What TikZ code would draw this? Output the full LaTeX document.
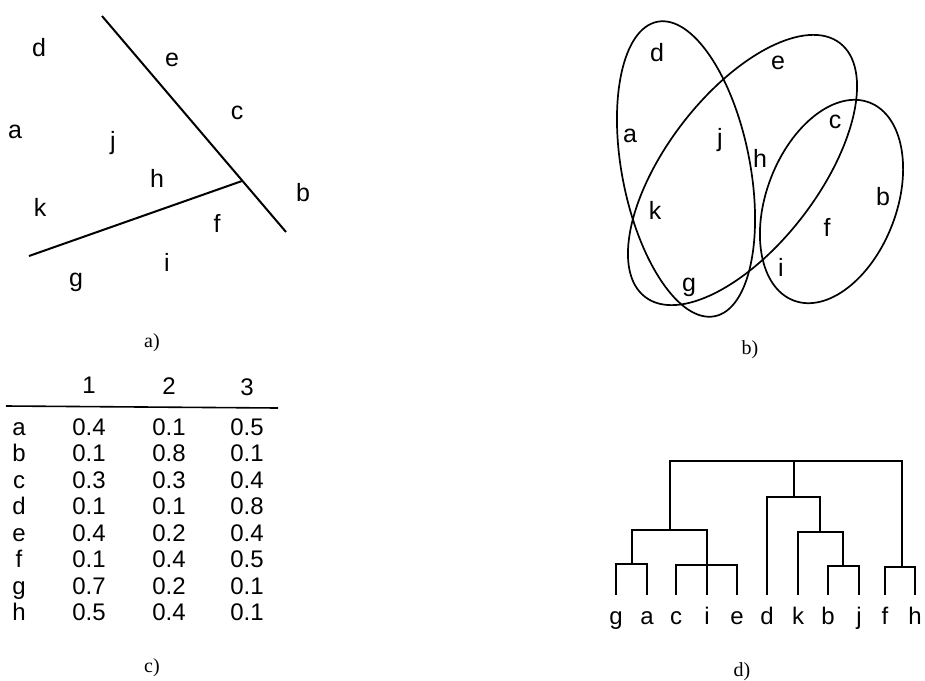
\documentclass[tikz,border=0pt]{standalone}
\usepackage{fontspec}
\setmainfont{Liberation Serif}
\newfontfamily\labfont{Liberation Sans}
\usetikzlibrary{positioning}

\begin{document}
\begin{tikzpicture}[
  x=0.5pt, y=-0.5pt,
  lab/.style={font=\labfont\fontsize{12.5}{14}\selectfont, inner sep=0pt},
  cell/.style={font=\labfont\fontsize{12}{14}\selectfont, inner sep=0pt, anchor=base},
  leaf/.style={font=\labfont\fontsize{12}{14}\selectfont, inner sep=0pt, anchor=base, text height=7pt},
  subcap/.style={font=\fontsize{10}{12}\selectfont, inner sep=0pt},
  cut/.style={line width=1pt},
  set/.style={line width=0.85pt},
  tree/.style={line width=0.85pt},
]
\useasboundingbox (0,0) rectangle (925,680);

% ---- a) objects split by two cuts ----
\coordinate (cutA1) at (102,16);
\coordinate (cutA2) at (286,232);
\coordinate (cutB1) at (29,256);
\coordinate (cutB2) at (242,181);
\draw[cut] (cutA1) -- (cutA2);
\draw[cut] (cutB1) -- (cutB2);
\node[lab] (pa-d) at (39,48) {d};
\node[lab] (pa-e) at (172,60) {e};
\node[lab] (pa-c) at (237,113) {c};
\node[lab] (pa-a) at (15,132) {a};
\node[lab] (pa-j) at (113,143) {j};
\node[lab] (pa-h) at (157,178) {h};
\node[lab] (pa-b) at (303,193) {b};
\node[lab] (pa-k) at (40,207) {k};
\node[lab] (pa-f) at (217,223) {f};
\node[lab] (pa-i) at (167,262) {i};
\node[lab] (pa-g) at (76,282) {g};
\node[subcap] (capa) at (152,343) {a)};

% ---- b) overlapping clusters ----
\coordinate (setL) at (686,169);
\coordinate (setM) at (742.5,170);
\coordinate (setR) at (831.5,201.5);
\draw[set, rotate around={101:(setL)}] (setL) ellipse [x radius=150, y radius=64];
\draw[set, rotate around={52.5:(setM)}] (setM) ellipse [x radius=160, y radius=76];
\draw[set, rotate around={69:(setR)}] (setR) ellipse [x radius=106, y radius=65];
\node[lab] (pb-d) at (657,53) {d};
\node[lab] (pb-e) at (778,63) {e};
\node[lab] (pb-c) at (835,122) {c};
\node[lab] (pb-a) at (630,136) {a};
\node[lab] (pb-j) at (720,140) {j};
\node[lab] (pb-h) at (760,158) {h};
\node[lab] (pb-b) at (883,197) {b};
\node[lab] (pb-k) at (655,210) {k};
\node[lab] (pb-f) at (827,227) {f};
\node[lab] (pb-i) at (781,267) {i};
\node[lab] (pb-g) at (689,287) {g};
\node[subcap] (capb) at (750,350) {b)};

% ---- c) membership table ----
\node[cell] (col1) at (89,393) {1};
\node[cell] (col2) at (169,394) {2};
\node[cell] (col3) at (247,395) {3};
\coordinate (ruleL) at (6,406);
\coordinate (ruleR) at (278,408);
\draw[line width=0.8pt] (ruleL) -- (ruleR);
\foreach \r/\u/\v/\w [count=\n from 0] in {a/0.4/0.1/0.5, b/0.1/0.8/0.1, c/0.3/0.3/0.4,
    d/0.1/0.1/0.8, e/0.4/0.2/0.4, f/0.1/0.4/0.5, g/0.7/0.2/0.1, h/0.5/0.4/0.1}{
  \node[cell] (row-\r) at (19,435+26.5*\n) {\r};
  \node[cell] (row-\r-1) at (89,435+26.5*\n) {\u};
  \node[cell] (row-\r-2) at (169,435+26.5*\n) {\v};
  \node[cell] (row-\r-3) at (247,435+26.5*\n) {\w};
}
\node[subcap] (capc) at (152,668) {c)};

% ---- d) dendrogram ----
\foreach \l/\x in {g/616, a/647, c/676, i/707, e/737, d/767, k/798, b/828, j/859, f/885, h/915}
  \node[leaf] (leaf-\l) at (\x,624) {\l};
\coordinate (ga) at (632,564);
\coordinate (cie) at (707,565);
\coordinate (gacie) at (670,530);
\coordinate (root) at (794,461);
\coordinate (dkbj) at (794,497);
\coordinate (kbj) at (820,532);
\coordinate (bj) at (843,566);
\coordinate (fh) at (902,567);
\draw[tree] ([yshift=7.5pt]leaf-g.north) |- (ga) -| ([yshift=7.5pt]leaf-a.north);
\draw[tree] ([yshift=7.5pt]leaf-c.north) |- (cie) -| ([yshift=7.5pt]leaf-e.north);
\draw[tree] (ga) |- (gacie) -| ([yshift=7.5pt]leaf-i.north);
\draw[tree] (gacie) |- (root) -| (fh);
\draw[tree] (root) -- (dkbj);
\draw[tree] ([yshift=7.5pt]leaf-d.north) |- (dkbj) -| (kbj);
\draw[tree] ([yshift=7.5pt]leaf-k.north) |- (kbj) -| (bj);
\draw[tree] ([yshift=7.5pt]leaf-b.north) |- (bj) -| ([yshift=7.5pt]leaf-j.north);
\draw[tree] ([yshift=7.5pt]leaf-f.north) |- (fh) -| ([yshift=7.5pt]leaf-h.north);
\node[subcap] (capd) at (742,672) {d)};
\end{tikzpicture}
\end{document}
